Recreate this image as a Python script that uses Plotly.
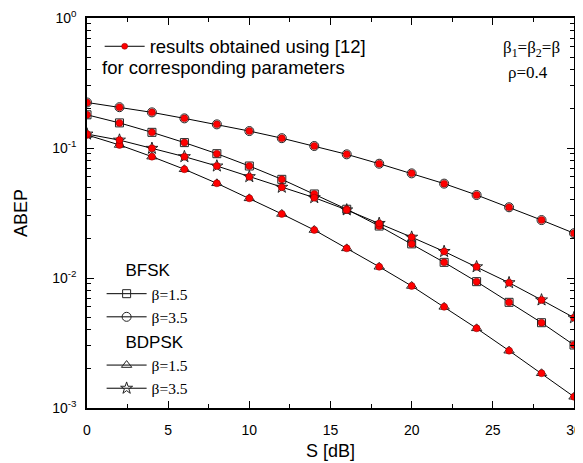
import plotly.graph_objects as go

# ---------------- data ----------------
snr_db = [0, 2, 4, 6, 8, 10, 12, 14, 16, 18, 20, 22, 24, 26, 28, 30]

bfsk_b15 = [0.180, 0.156, 0.132, 0.110, 0.0904, 0.0727, 0.0574, 0.0443, 0.0338,
            0.0251, 0.0183, 0.0132, 0.00937, 0.0065, 0.00453, 0.00305]
bfsk_b35 = [0.224, 0.206, 0.188, 0.169, 0.152, 0.135, 0.119, 0.1036, 0.0894,
            0.0757, 0.0638, 0.0532, 0.0435, 0.0350, 0.0279, 0.0221]
bdpsk_b15 = [0.126, 0.1055, 0.0858, 0.0686, 0.0535, 0.0410, 0.0311, 0.0234, 0.0169,
             0.0122, 0.00868, 0.0060, 0.0041, 0.00276, 0.00185, 0.00122]
bdpsk_b35 = [0.128, 0.115, 0.0994, 0.0858, 0.0727, 0.0602, 0.0499, 0.0415, 0.0334,
             0.0263, 0.0206, 0.0160, 0.0122, 0.0092, 0.00678, 0.00495]

series = [
    ("BFSK", "β=1.5", bfsk_b15, "square-open", 8),
    ("BFSK", "β=3.5", bfsk_b35, "circle-open", 9),
    ("BDPSK", "β=1.5", bdpsk_b15, "triangle-up-open", 9),
    ("BDPSK", "β=3.5", bdpsk_b35, "star-open", 9),
]

y_tick_vals = [1e-3, 1e-2, 1e-1, 1]
y_tick_text = ["10<sup>-3</sup>", "10<sup>-2</sup>", "10<sup>-1</sup>", "10<sup>0</sup>"]
y_minor_vals = [k * 10 ** e for e in (-3, -2, -1) for k in range(2, 10)]

SANS = "Liberation Sans"
SERIF = "Liberation Serif"
NB = "\u00a0"

fig = go.Figure()

# analytic curves with open black markers
for grp, name, vals, sym, sz in series:
    fig.add_trace(go.Scatter(
        x=snr_db, y=vals, mode="lines+markers", name=name,
        legendgroup=grp,
        legendgrouptitle=dict(text=NB * 4 + grp, font=dict(family=SANS, size=17, color="black")),
        line=dict(color="black", width=1),
        marker=dict(symbol=sym, size=sz, color="#222222", line=dict(color="#222222", width=1)),
        legend="legend",
    ))

# red dots: results obtained using [12]
for grp, name, vals, sym, sz in series:
    fig.add_trace(go.Scatter(
        x=snr_db, y=vals, mode="markers", showlegend=False,
        marker=dict(symbol="circle", size=7, color="#ff0000", line=dict(color="#8b0000", width=0.5)),
    ))

# legend-only entry for the reference results
fig.add_trace(go.Scatter(
    x=[None], y=[None], mode="lines+markers", name="results obtained using [12]",
    line=dict(color="black", width=1),
    marker=dict(symbol="circle", size=6, color="#ff0000", line=dict(color="#8b0000", width=0.5)),
    legend="legend2",
))

axis_common = dict(
    showline=True, linecolor="black", linewidth=1.5, mirror="ticks",
    ticks="inside", tickcolor="black", tickwidth=1.2, ticklen=7,
    showgrid=False, zeroline=False, automargin=False,
    tickfont=dict(family=SANS, size=14, color="black"),
)

fig.update_xaxes(
    range=[0, 30], dtick=5, tick0=0, ticklabelstandoff=8,
    minor=dict(dtick=2.5, ticks="inside", ticklen=4, tickcolor="black", tickwidth=1.2, showgrid=False),
    title=dict(text="S [dB]", font=dict(family=SANS, size=18, color="black"), standoff=8),
    **axis_common,
)
fig.update_yaxes(
    type="log", range=[-3, 0], ticklabelstandoff=6,
    tickmode="array", tickvals=y_tick_vals, ticktext=y_tick_text,
    minor=dict(tickmode="array", tickvals=y_minor_vals, ticks="inside", ticklen=4,
               tickcolor="black", tickwidth=1.2, showgrid=False),
    title=dict(text="ABEP", font=dict(family=SANS, size=18, color="black"), standoff=20),
    **axis_common,
)

fig.update_layout(
    width=583, height=463,
    margin=dict(l=79, r=17, t=10, b=63),
    paper_bgcolor="white", plot_bgcolor="white",
    legend=dict(
        x=0.03, y=0.40, xanchor="left", yanchor="top",
        bgcolor="rgba(0,0,0,0)", borderwidth=0, tracegroupgap=0,
        traceorder="grouped", itemwidth=40,
        font=dict(family=SERIF, size=15.5, color="black"),
    ),
    legend2=dict(
        x=0.026, y=0.975, xanchor="left", yanchor="top",
        bgcolor="rgba(0,0,0,0)", borderwidth=0, itemwidth=40,
        font=dict(family=SANS, size=18.5, color="black"),
    ),
    annotations=[
        dict(text="for corresponding parameters", xref="paper", yref="paper",
             x=0.027, y=0.872, xanchor="left", yanchor="middle", showarrow=False,
             font=dict(family=SANS, size=18.5, color="black")),
        dict(text="β<sub>1</sub>=β<sub>2</sub>=β", xref="paper", yref="paper",
             x=0.912, y=0.92, xanchor="center", yanchor="middle", showarrow=False,
             font=dict(family=SERIF, size=17, color="black")),
        dict(text="ρ=0.4", xref="paper", yref="paper",
             x=0.905, y=0.859, xanchor="center", yanchor="middle", showarrow=False,
             font=dict(family=SERIF, size=17, color="black")),
    ],
)

fig.write_html("out.html")
